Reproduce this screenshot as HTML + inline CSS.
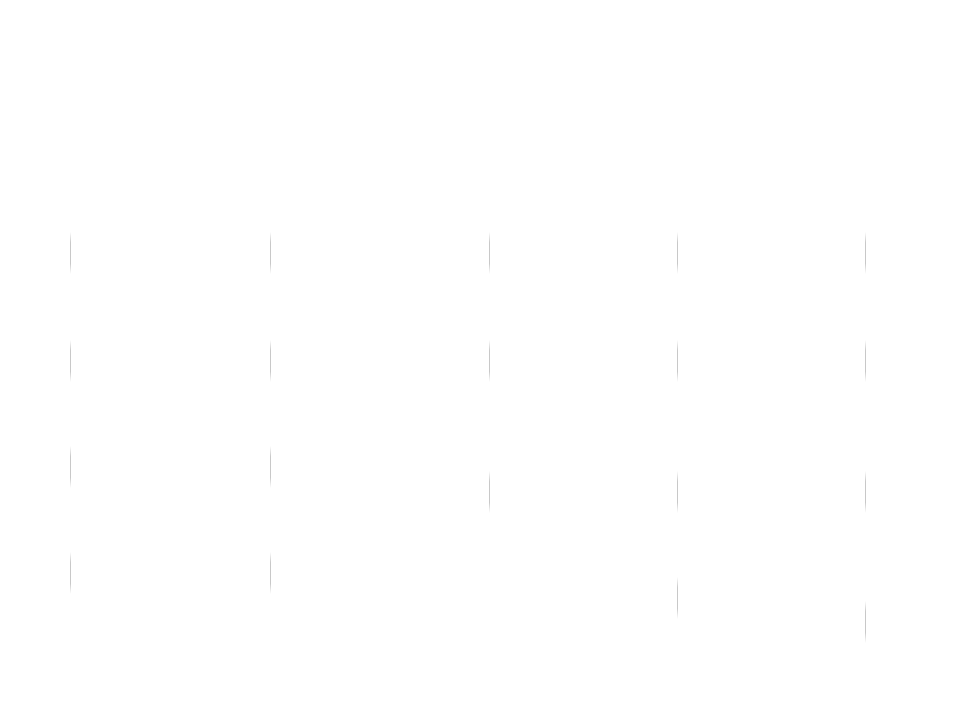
<!DOCTYPE html>
<html><head><meta charset="utf-8"><style>
html,body{margin:0;padding:0;background:#fff;width:962px;height:710px;overflow:hidden;position:relative}
.l{position:absolute;width:1px;height:42px;background:linear-gradient(to bottom,rgba(200,200,200,0),#c8c8c8 25%,#c8c8c8 75%,rgba(200,200,200,0))}
</style></head><body>
<div class="l" style="left:70px;top:232px"></div>
<div class="l" style="left:270px;top:232px"></div>
<div class="l" style="left:489px;top:232px"></div>
<div class="l" style="left:677px;top:232px"></div>
<div class="l" style="left:865px;top:232px"></div>

<div class="l" style="left:70px;top:340px"></div>
<div class="l" style="left:270px;top:340px"></div>
<div class="l" style="left:489px;top:340px"></div>
<div class="l" style="left:677px;top:340px"></div>
<div class="l" style="left:865px;top:340px"></div>

<div class="l" style="left:70px;top:446px"></div>
<div class="l" style="left:270px;top:446px"></div>
<div class="l" style="left:489px;top:471px"></div>
<div class="l" style="left:677px;top:471px"></div>
<div class="l" style="left:865px;top:471px"></div>

<div class="l" style="left:70px;top:552px"></div>
<div class="l" style="left:270px;top:552px"></div>
<div class="l" style="left:677px;top:577px"></div>
<div class="l" style="left:865px;top:601px"></div>
</body></html>
